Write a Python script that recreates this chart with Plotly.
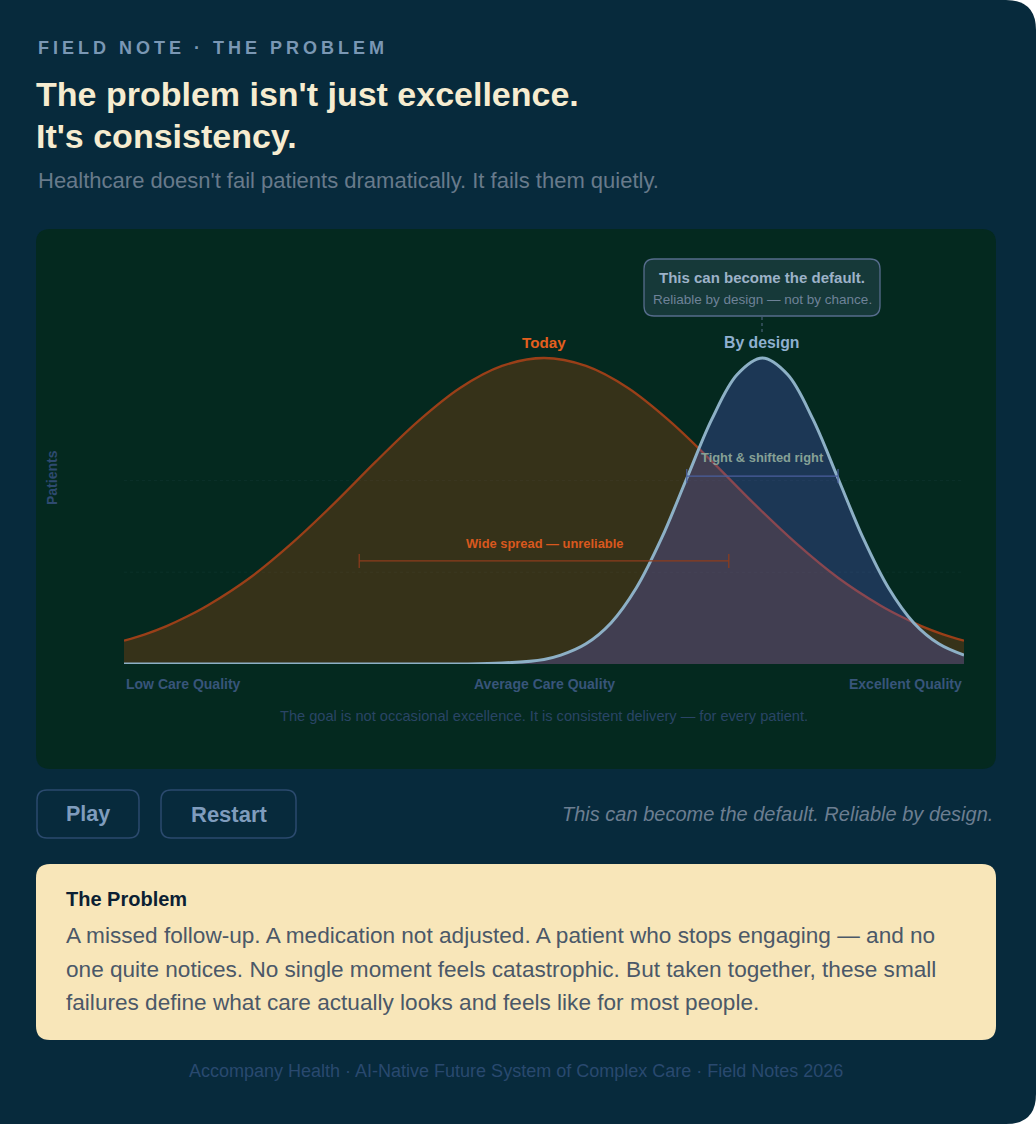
import plotly.graph_objects as go

# care quality (0 = low, 100 = excellent) vs share of patients (peak = 1)
today_x = [0, 2.5, 5, 7.5, 10, 15, 20, 25, 30, 35, 40, 45, 50, 55, 60, 65, 70, 75, 80, 85,
           90, 92.5, 95, 97.5, 100]
today_y = [0.076, 0.097, 0.123, 0.155, 0.192, 0.282, 0.395, 0.524, 0.662, 0.793, 0.902, 0.974,
           1.0, 0.974, 0.902, 0.793, 0.662, 0.524, 0.395, 0.282, 0.192, 0.155, 0.123, 0.097, 0.076]

design_x = [0, 10, 20, 30, 40, 45, 50, 52, 55, 58, 61, 64, 67, 70, 73, 76,
            79, 82, 85, 88, 91, 94, 97, 100]
design_y = [0.0, 0.0, 0.0, 0.0, 0.0, 0.003, 0.015, 0.029, 0.066, 0.135, 0.249, 0.411,
            0.607, 0.801, 0.946, 1.0, 0.946, 0.801, 0.607, 0.411, 0.249, 0.135, 0.066, 0.029]

today_mean, today_spread, today_bar_y = 50, 22, 0.337
design_mean, design_spread, design_bar_y = 76, 9, 0.614
grid_y = [0.3, 0.6]

axis_labels = ["Low Care Quality", "Average Care Quality", "Excellent Quality"]
axis_label_x = [0, 50, 100]

W, H = 1036, 1124
FONT = "Liberation Sans"
PAGE = "#072a3c"
PANEL = "#04291f"


def px(x):
    return x / W


def py(y):
    return 1 - y / H


def rrect(x0, y0, x1, y1, r, right_only=False):
    # rounded rectangle path in paper coords, input in pixels
    rl = 0 if right_only else r
    pts = [
        f"M {px(x0 + rl)},{py(y0)}",
        f"L {px(x1 - r)},{py(y0)}",
        f"Q {px(x1)},{py(y0)} {px(x1)},{py(y0 + r)}",
        f"L {px(x1)},{py(y1 - r)}",
        f"Q {px(x1)},{py(y1)} {px(x1 - r)},{py(y1)}",
        f"L {px(x0 + rl)},{py(y1)}",
        f"Q {px(x0)},{py(y1)} {px(x0)},{py(y1 - rl)}",
        f"L {px(x0)},{py(y0 + rl)}",
        f"Q {px(x0)},{py(y0)} {px(x0 + rl)},{py(y0)}",
        "Z",
    ]
    return " ".join(pts)


def text(s, x, y, size, color, weight="normal", xanchor="left", style="normal", ref="paper"):
    if ref == "paper":
        x, y = px(x), py(y)
    return dict(text=s, x=x, y=y, xref=ref, yref=ref if ref == "paper" else "y",
                xanchor=xanchor, yanchor="middle", showarrow=False,
                font=dict(family=FONT, size=size, color=color, weight=weight, style=style))


fig = go.Figure()

# faint grid
for g in grid_y:
    fig.add_trace(go.Scatter(x=[0, 100], y=[g, g], mode="lines", hoverinfo="skip",
                             line=dict(color="rgba(120,150,180,0.07)", width=1, dash="dot")))

fig.add_trace(go.Scatter(x=today_x, y=today_y, mode="lines", fill="tozeroy",
                         fillcolor="rgba(215,80,10,0.24)",
                         line=dict(color="#9a3f18", width=2.3, shape="spline")))
fig.add_trace(go.Scatter(x=design_x, y=design_y, mode="lines", fill="tozeroy",
                         fillcolor="rgba(95,95,225,0.28)",
                         line=dict(color="#8db0c6", width=3, shape="spline")))

# spread bars
fig.add_trace(go.Scatter(x=[today_mean - today_spread, today_mean + today_spread],
                         y=[today_bar_y, today_bar_y], mode="lines+markers",
                         line=dict(color="#8e3c1c", width=1.2),
                         marker=dict(symbol="line-ns", size=10,
                                     line=dict(color="#8e3c1c", width=1.2))))
fig.add_trace(go.Scatter(x=[design_mean - design_spread, design_mean + design_spread],
                         y=[design_bar_y, design_bar_y], mode="lines+markers",
                         line=dict(color="#4a5f9e", width=1.2),
                         marker=dict(symbol="line-ns", size=10,
                                     line=dict(color="#4a5f9e", width=1.2))))

shapes = [
    dict(type="path", xref="paper", yref="paper", path=rrect(0, 0, W, H, 30, right_only=True),
         fillcolor=PAGE, line=dict(width=0), layer="below"),
    dict(type="path", xref="paper", yref="paper", path=rrect(36, 229, 996, 769, 14),
         fillcolor=PANEL, line=dict(width=0), layer="below"),
    # callout
    dict(type="path", xref="paper", yref="paper", path=rrect(644, 259, 880, 316, 10),
         fillcolor="rgba(120,140,190,0.16)", line=dict(color="#566c8c", width=1.3)),
    dict(type="line", xref="paper", yref="paper", x0=px(762), x1=px(762), y0=py(317), y1=py(333),
         line=dict(color="#566c88", width=1, dash="dot")),
    # buttons
    dict(type="path", xref="paper", yref="paper", path=rrect(37, 790, 139, 838, 10),
         fillcolor="rgba(0,0,0,0)", line=dict(color="#2b4a6e", width=1.5)),
    dict(type="path", xref="paper", yref="paper", path=rrect(161, 790, 296, 838, 10),
         fillcolor="rgba(0,0,0,0)", line=dict(color="#2b4a6e", width=1.5)),
    # note card
    dict(type="path", xref="paper", yref="paper", path=rrect(36, 864, 996, 1040, 14),
         fillcolor="#f8e6b9", line=dict(width=0)),
]

annotations = [
    text('<span style="letter-spacing:4px">FIELD NOTE · THE PROBLEM</span>', 36, 48, 18, "#7a97b4", "bold"),
    text("The problem isn't just excellence.", 34, 94, 34, "#f6ecd0", "bold"),
    text("It's consistency.", 34, 136, 34, "#f6ecd0", "bold"),
    text("Healthcare doesn't fail patients dramatically. It fails them quietly.", 36, 181, 22, "#687a8b"),
    # chart labels
    text("Today", today_mean, 1.052, 15.2, "#e35f1e", "bold", "center", ref="x"),
    text("By design", design_mean, 1.052, 15.8, "#8fb0d0", "bold", "center", ref="x"),
    text("Wide spread — unreliable", today_mean, 0.395, 12.9, "#d9581e", "bold", "center", ref="x"),
    text("Tight & shifted right", design_mean, 0.676, 12.9, "#86a196", "bold", "center", ref="x"),
    text("This can become the default.", 762, 277, 15, "#9db2c8", "bold", "center"),
    text("Reliable by design — not by chance.", 762, 299, 13.5, "#6e8298", "normal", "center"),
    text("Patients", 52, 478, 14, "#2e4a70", "bold", "center"),
    text("The goal is not occasional excellence. It is consistent delivery — for every patient.",
         544, 716, 14.6, "#2a4566", "normal", "center"),
    # controls
    text("Play", 88, 814, 21.5, "#7f9cbd", "bold", "center"),
    text("Restart", 229, 814, 22, "#7f9cbd", "bold", "center"),
    text("This can become the default. Reliable by design.", 995, 814, 20, "#6c7e91", "normal",
         "right", style="italic"),
    # card
    text("The Problem", 64, 899, 20, "#0c1f33", "bold"),
    text("A missed follow-up. A medication not adjusted. A patient who stops engaging — and no",
         64, 935, 22.6, "#4b5868"),
    text("one quite notices. No single moment feels catastrophic. But taken together, these small",
         64, 969, 22.6, "#4b5868"),
    text("failures define what care actually looks and feels like for most people.",
         64, 1002, 22.6, "#4b5868"),
    text("Accompany Health · AI-Native Future System of Complex Care · Field Notes 2026",
         516, 1071, 18, "#29496f", "normal", "center"),
]
annotations[10]["textangle"] = -90

anchors = ["left", "center", "right"]
for lab, lx, anc in zip(axis_labels, axis_label_x, anchors):
    annotations.append(dict(text=lab, x=lx, y=py(684), xref="x", yref="paper", xanchor=anc,
                            yanchor="middle", showarrow=False,
                            font=dict(family=FONT, size=14, color="#38557a", weight="bold")))

fig.update_layout(
    width=W, height=H,
    margin=dict(l=0, r=0, t=0, b=0),
    paper_bgcolor="white",
    plot_bgcolor="rgba(0,0,0,0)",
    showlegend=False,
    shapes=shapes,
    annotations=annotations,
    xaxis=dict(domain=[px(124), px(964)], range=[0, 100], visible=False, fixedrange=True),
    yaxis=dict(domain=[py(664), py(296.8)], range=[0, 1.2], visible=False, fixedrange=True),
)

fig.write_html("out.html", config={"displayModeBar": False},
               post_script="document.body.style.margin='0px';")
